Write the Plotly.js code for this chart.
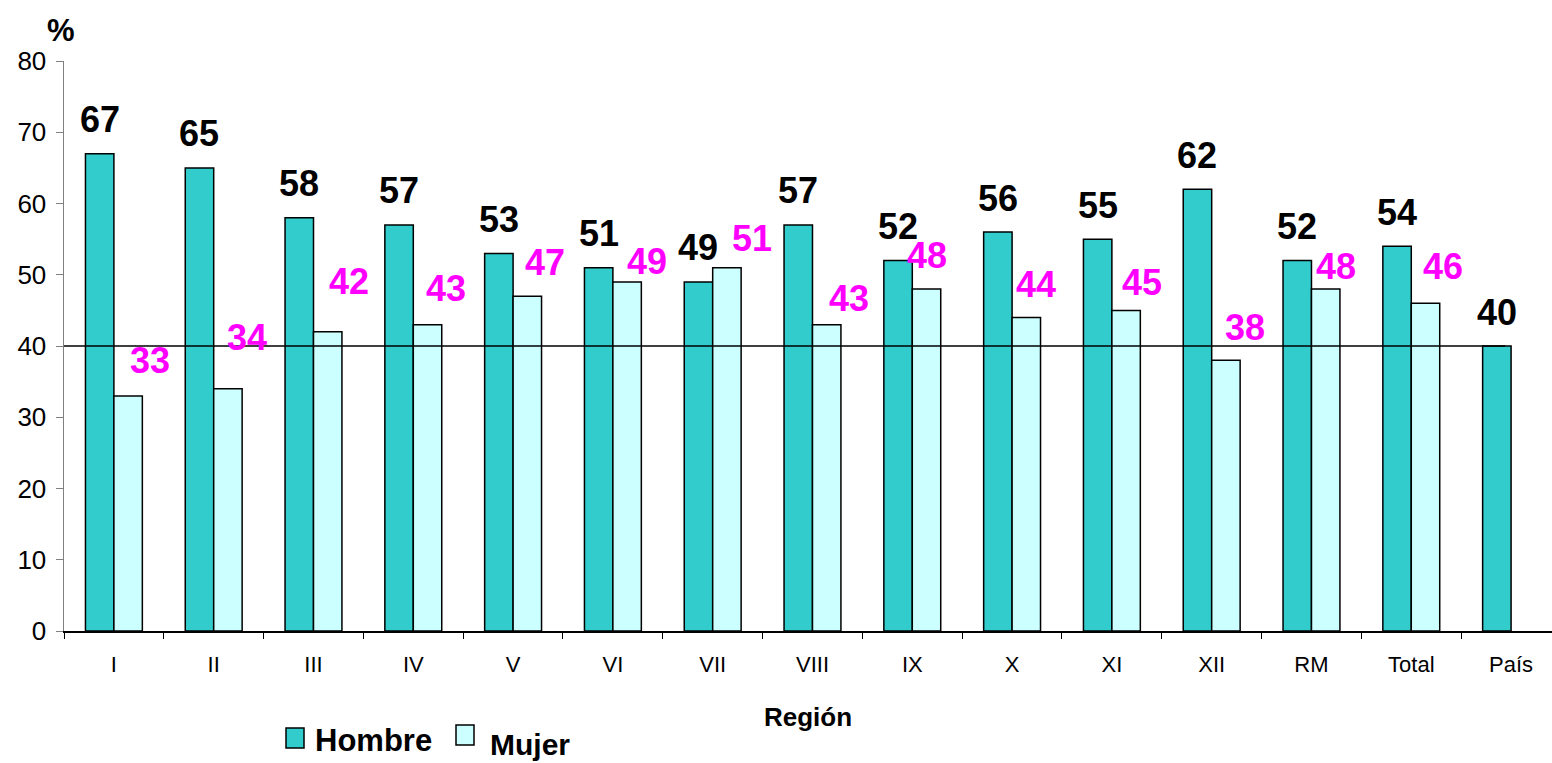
<!DOCTYPE html>
<html>
<head>
<meta charset="utf-8">
<script src="https://cdn.plot.ly/plotly-3.0.1.min.js"></script>
<style>html,body{margin:0;padding:0;background:#fff;}#chart{width:1552px;height:763px;}</style>
</head>
<body>
<div id="chart"></div>
<script>
// ---- data ----
var regions = ["I","II","III","IV","V","VI","VII","VIII","IX","X","XI","XII","RM","Total","País"];
var hombre  = [67, 65, 58, 57, 53, 51, 49, 57, 52, 56, 55, 62, 52, 54, 40];
var mujer   = [33, 34, 42, 43, 47, 49, 51, 43, 48, 44, 45, 38, 48, 46, null];
var referenceValue = 40;
var yTicks = [0, 10, 20, 30, 40, 50, 60, 70, 80];

// ---- label placement (pixel offsets, style only) ----
var mujerLabelDx = [22, 19, 21, 18, 18, 20, 25, 22, 0, 10, 16, 19, 10, 17];
var mujerLabelDy = [35, 51, 50, 36, 34, 20, 29, 26, 34, 33, 28, 33, 23, 37];

var W = 1552, H = 763;
var L = 64, T = 61, B = 132, R = 0;
var plotW = W - L - R, plotH = H - T - B;
function px2x(px){ return (px - L) / plotW; }
function px2y(py){ return (H - B - py) / plotH; }

var barHalf = 14.25; // half bar width in px approx (for label alignment)
var FONT = 'Liberation Sans, Arial, sans-serif';

var annotations = [];
regions.forEach(function(r, i){
  annotations.push({
    x: r, y: hombre[i], xref: 'x', yref: 'y',
    text: '<b>' + hombre[i] + '</b>', showarrow: false,
    xshift: -barHalf, yshift: 34, xanchor: 'center', yanchor: 'middle',
    font: {family: FONT, size: 36, color: '#000000'}
  });
  if (mujer[i] !== null) {
    annotations.push({
      x: r, y: mujer[i], xref: 'x', yref: 'y',
      text: '<b>' + mujer[i] + '</b>', showarrow: false,
      xshift: barHalf + mujerLabelDx[i], yshift: mujerLabelDy[i], xanchor: 'center', yanchor: 'middle',
      font: {family: FONT, size: 36, color: '#FF00FF'}
    });
  }
});
// "%" unit label
annotations.push({
  x: px2x(61), y: px2y(30), xref: 'paper', yref: 'paper', text: '<b>%</b>', showarrow: false,
  xanchor: 'center', yanchor: 'middle',
  font: {family: FONT, size: 31, color: '#000'}
});
// legend texts
annotations.push({
  x: px2x(313), y: px2y(740), xref: 'paper', yref: 'paper', text: '<b>Hombre</b>', showarrow: false,
  xanchor: 'left', yanchor: 'middle',
  font: {family: FONT, size: 31, color: '#000'}
});
annotations.push({
  x: px2x(488), y: px2y(744), xref: 'paper', yref: 'paper', text: '<b>Mujer</b>', showarrow: false,
  xanchor: 'left', yanchor: 'middle',
  font: {family: FONT, size: 30, color: '#000'}
});

var shapes = [
  {type: 'line', xref: 'x', yref: 'y', x0: -0.5, x1: 13.94, y0: referenceValue, y1: referenceValue,
   line: {color: '#000', width: 1.5}, layer: 'above'},
  {type: 'rect', xref: 'paper', yref: 'paper', x0: px2x(286), x1: px2x(304), y0: px2y(748), y1: px2y(728),
   fillcolor: '#33CCCC', line: {color: '#000', width: 1.5}},
  {type: 'rect', xref: 'paper', yref: 'paper', x0: px2x(456), x1: px2x(474), y0: px2y(745), y1: px2y(725),
   fillcolor: '#CCFFFF', line: {color: '#000', width: 1.5}}
];

var traces = [
  {type: 'bar', name: 'Hombre', x: regions, y: hombre,
   marker: {color: '#33CCCC', line: {color: '#000', width: 1.5}}, hoverinfo: 'x+y'},
  {type: 'bar', name: 'Mujer', x: regions, y: mujer,
   marker: {color: '#CCFFFF', line: {color: '#000', width: 1.5}}, hoverinfo: 'x+y'}
];

var layout = {
  width: W, height: H,
  margin: {l: L, r: R, t: T, b: B, pad: 0},
  paper_bgcolor: '#fff', plot_bgcolor: '#fff',
  barmode: 'group', bargap: 0.43, bargroupgap: 0,
  showlegend: false,
  font: {family: FONT, color: '#000'},
  xaxis: {
    type: 'category', range: [-0.5, 14.41], fixedrange: true,
    showline: true, linecolor: '#000', linewidth: 1.5,
    ticks: 'outside', tickson: 'boundaries', ticklen: 6, tickcolor: '#000', tickwidth: 1,
    showgrid: false, zeroline: false,
    tickfont: {size: 22, color: '#000'}, ticklabelstandoff: 13,
    title: {text: '<b>Región</b>', font: {size: 26, color: '#000'}, standoff: 32},
    automargin: false
  },
  yaxis: {
    range: [0, 80], tickvals: yTicks, fixedrange: true,
    showline: true, linecolor: '#808080', linewidth: 1.5,
    ticks: 'outside', ticklen: 7, tickcolor: '#808080', tickwidth: 1,
    showgrid: false, zeroline: false,
    tickfont: {size: 26, color: '#000'}, ticklabelstandoff: 4,
    automargin: false
  },
  annotations: annotations,
  shapes: shapes
};

Plotly.newPlot('chart', traces, layout, {displayModeBar: false, staticPlot: true});
</script>
</body>
</html>
